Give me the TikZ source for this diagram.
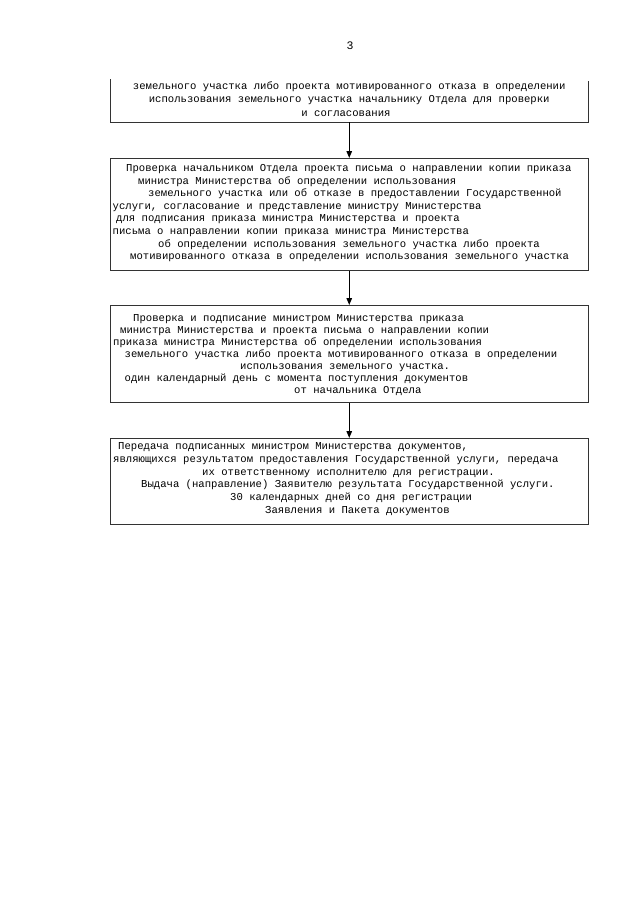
\documentclass[tikz,border=0pt]{standalone}
\usepackage{fontspec}
\setmainfont{Liberation Mono}
\usetikzlibrary{arrows.meta}
\tikzset{
  txt/.style={inner sep=0pt, anchor=base west, font=\fontsize{10.6}{12.6}\selectfont, text=black},
  ctxt/.style={txt, anchor=base},
  boxline/.style={draw=black!80, line width=0.9pt},
  stepbox/.style={boxline, rectangle, minimum width=477.5pt, inner sep=0pt, anchor=north},
  flow/.style={draw=black, line width=1.3pt, -{Triangle[length=7pt,width=5.5pt]}}
}
\begin{document}
\begin{tikzpicture}[x=1pt,y=-1pt]
\useasboundingbox (0,0) rectangle (640,905);
\fill[white] (0,0) rectangle (640,905);
% page number
\node[ctxt, font=\fontsize{11.5}{13}\selectfont] (pnum) at (350,49) {3};
% box 1 (continuation, no top edge)
\coordinate (b1tl) at (110.5,79);
\coordinate (b1tr) at (588,81);
\coordinate (b1s) at (349.25,122);
\draw[boxline] (b1tl) -- (110.5,122) -- (588,122) -- (b1tr);
\node[ctxt] (b1l1) at (349.25,89) {земельного участка либо проекта мотивированного отказа в определении};
\node[ctxt] (b1l2) at (349.25,102.5) {использования земельного участка начальнику Отдела для проверки};
\node[ctxt] (b1l3) at (346,116) {и согласования};
% box 2
\node[stepbox, minimum height=112pt] (box2) at (349.25,158) {};
\node[txt] (b2l1) at (126,171.5) {Проверка начальником Отдела проекта письма о направлении копии приказа};
\node[txt] (b2l2) at (138,184.1) {министра Министерства об определении использования};
\node[txt] (b2l3) at (148,196.7) {земельного участка или об отказе в предоставлении Государственной};
\node[txt] (b2l4) at (112.5,209.3) {услуги, согласование и представление министру Министерства};
\node[txt] (b2l5) at (116,221.9) {для подписания приказа министра Министерства и проекта};
\node[txt] (b2l6) at (112.5,234.5) {письма о направлении копии приказа министра Министерства};
\node[txt] (b2l7) at (158,247.1) {об определении использования земельного участка либо проекта};
\node[txt] (b2l8) at (130,259.7) {мотивированного отказа в определении использования земельного участка};
% box 3
\node[stepbox, minimum height=97pt] (box3) at (349.25,305) {};
\node[txt] (b3l1) at (133,321.5) {Проверка и подписание министром Министерства приказа};
\node[txt] (b3l2) at (120,333.5) {министра Министерства и проекта письма о направлении копии};
\node[txt] (b3l3) at (113,345.5) {приказа министра Министерства об определении использования};
\node[txt] (b3l4) at (124.5,357.5) {земельного участка либо проекта мотивированного отказа в определении};
\node[txt] (b3l5) at (240,369.5) {использования земельного участка.};
\node[txt] (b3l6) at (124.5,381.5) {один календарный день с момента поступления документов};
\node[txt] (b3l7) at (294,393.5) {от начальника Отдела};
% box 4
\node[stepbox, minimum height=86pt] (box4) at (349.25,438) {};
\node[txt] (b4l1) at (118,449.5) {Передача подписанных министром Министерства документов,};
\node[txt] (b4l2) at (113,462.3) {являющихся результатом предоставления Государственной услуги, передача};
\node[txt] (b4l3) at (202,475.1) {их ответственному исполнителю для регистрации.};
\node[txt] (b4l4) at (141,487.9) {Выдача (направление) Заявителю результата Государственной услуги.};
\node[txt] (b4l5) at (230,500.7) {30 календарных дней со дня регистрации};
\node[txt] (b4l6) at (265,513.5) {Заявления и Пакета документов};
% arrows
\draw[flow] (b1s) -- (box2.north);
\draw[flow] (box2.south) -- (box3.north);
\draw[flow] (box3.south) -- (box4.north);
\end{tikzpicture}
\end{document}
